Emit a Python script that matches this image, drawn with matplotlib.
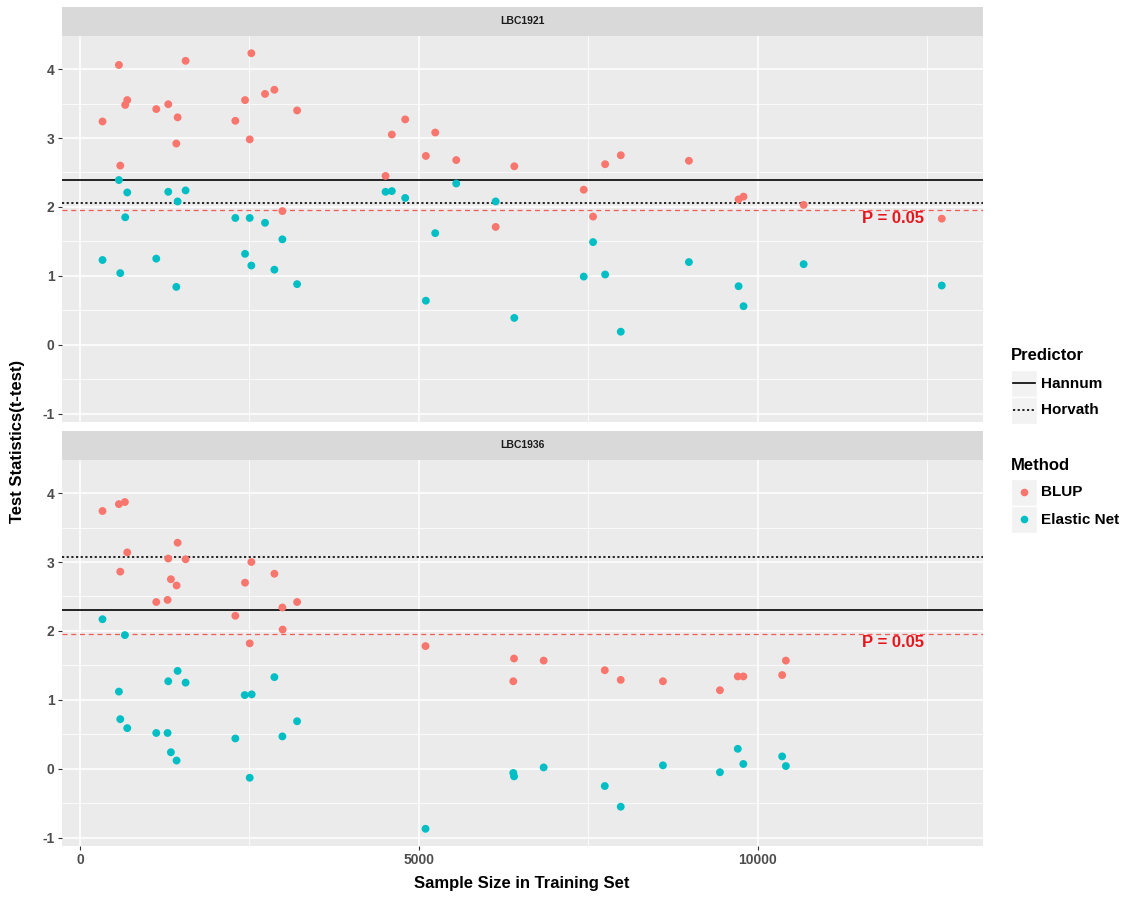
import matplotlib
matplotlib.use("Agg")
import matplotlib.pyplot as plt
from matplotlib.patches import Rectangle
from matplotlib.lines import Line2D
from matplotlib.ticker import FixedLocator

plt.rcParams['font.family'] = ['Liberation Sans', 'DejaVu Sans']

# ---- data -------------------------------------------------------------
cohorts = ["LBC1921", "LBC1936"]
methods = ["BLUP", "Elastic Net"]
predictors = ["Hannum", "Horvath"]

# LBC1921
lbc1921_blup_n = [332, 574, 594, 667, 697, 1125, 1302, 1421, 1440, 1558, 2292, 2435,
                  2504, 2528, 2730, 2868, 2986, 3203, 4508, 4601, 4798, 5103, 5241,
                  5551, 6133, 6408, 7432, 7570, 7748, 7979, 8984, 9717, 9790, 10677, 12715]
lbc1921_blup_t = [3.24, 4.06, 2.60, 3.48, 3.55, 3.42, 3.49, 2.92, 3.30, 4.12, 3.25, 3.55,
                  2.98, 4.23, 3.64, 3.70, 1.94, 3.40, 2.45, 3.05, 3.27, 2.74, 3.08,
                  2.68, 1.71, 2.59, 2.25, 1.86, 2.62, 2.75, 2.67, 2.11, 2.15, 2.03, 1.83]
lbc1921_enet_n = lbc1921_blup_n
lbc1921_enet_t = [1.23, 2.39, 1.04, 1.85, 2.21, 1.25, 2.22, 0.84, 2.08, 2.24, 1.84, 1.32,
                  1.84, 1.15, 1.77, 1.09, 1.53, 0.88, 2.22, 2.23, 2.13, 0.64, 1.62,
                  2.34, 2.08, 0.39, 0.99, 1.49, 1.02, 0.19, 1.20, 0.85, 0.56, 1.17, 0.86]

# LBC1936
lbc1936_blup_n = [332, 574, 594, 662, 697, 1125, 1292, 1302, 1341, 1425, 1440, 1558,
                  2292, 2435, 2504, 2528, 2868, 2986, 2990, 3203, 5098, 6393, 6404,
                  6841, 7743, 7978, 8601, 9442, 9705, 9787, 10360, 10415]
lbc1936_blup_t = [3.74, 3.84, 2.86, 3.87, 3.14, 2.42, 2.45, 3.05, 2.75, 2.66, 3.28, 3.04,
                  2.22, 2.70, 1.82, 3.00, 2.83, 2.34, 2.02, 2.42, 1.78, 1.27, 1.60,
                  1.57, 1.43, 1.29, 1.27, 1.14, 1.34, 1.34, 1.36, 1.57]
lbc1936_enet_n = [332, 574, 594, 662, 697, 1125, 1292, 1302, 1341, 1425, 1440, 1558,
                  2292, 2430, 2504, 2533, 2868, 2986, 3203, 5098, 6393, 6404, 6841,
                  7743, 7978, 8601, 9442, 9705, 9787, 10360, 10415]
lbc1936_enet_t = [2.17, 1.12, 0.72, 1.94, 0.59, 0.52, 0.52, 1.27, 0.24, 0.12, 1.42, 1.25,
                  0.44, 1.07, -0.13, 1.08, 1.33, 0.47, 0.69, -0.87, -0.06, -0.11, 0.02,
                  -0.25, -0.55, 0.05, -0.05, 0.29, 0.07, 0.18, 0.04]

# reference t-statistics of the published clocks, per cohort
hannum_t = [2.39, 2.31]
horvath_t = [2.06, 3.07]
p05_t = 1.96
p05_label = "P = 0.05"
p05_label_x = 12000

x_ticks = [0, 5000, 10000]
y_ticks = [-1, 0, 1, 2, 3, 4]

panels = [
    (lbc1921_blup_n, lbc1921_blup_t, lbc1921_enet_n, lbc1921_enet_t),
    (lbc1936_blup_n, lbc1936_blup_t, lbc1936_enet_n, lbc1936_enet_t),
]

# ---- style ------------------------------------------------------------
W, H = 1123, 897
BG = "#EBEBEB"
STRIP = "#D9D9D9"
RED = "#F8766D"
CYAN = "#00BFC4"
TICK_TXT = "#4D4D4D"

fig = plt.figure(figsize=(W / 100, H / 100), dpi=100)


def fx(px):
    return px / W


def fy(py):
    return 1 - py / H


left, right = 61.5, 982.5
panel_boxes = [(36, 422, 7), (460, 846, 431)]   # (top, bottom, strip top) in px

for i, (cohort, data) in enumerate(zip(cohorts, panels)):
    top, bot, stop = panel_boxes[i]
    ax = fig.add_axes([fx(left), fy(bot), fx(right - left), (bot - top) / H])
    ax.set_facecolor(BG)
    ax.set_xlim(-273, 13316)
    ax.set_ylim(-1.12, 4.48)
    ax.xaxis.set_major_locator(FixedLocator(x_ticks))
    ax.xaxis.set_minor_locator(FixedLocator([2500, 7500, 12500]))
    ax.yaxis.set_major_locator(FixedLocator(y_ticks))
    ax.yaxis.set_minor_locator(FixedLocator([-0.5, 0.5, 1.5, 2.5, 3.5]))
    ax.grid(which="major", color="white", lw=1.1, zorder=0)
    ax.grid(which="minor", color="white", lw=0.55, zorder=0)
    ax.set_axisbelow(True)
    for s in ax.spines.values():
        s.set_visible(False)
    ax.tick_params(which="major", length=3, width=0.8, color="#333333",
                   labelcolor=TICK_TXT, labelsize=10, pad=2)
    ax.tick_params(which="minor", length=0)
    if i == 0:
        ax.tick_params(axis="x", which="both", labelbottom=False, length=0)
    else:
        ax.set_xticklabels([str(t) for t in x_ticks], fontweight="bold")
    ax.set_yticklabels([str(t) for t in y_ticks], fontweight="bold")

    bn, bt, en, et = data
    ax.scatter(bn, bt, s=32, color=RED, edgecolors="none", zorder=3)
    ax.scatter(en, et, s=32, color=CYAN, edgecolors="none", zorder=3)

    ax.axhline(hannum_t[i], color="black", lw=1.2, ls="-", zorder=2)
    ax.axhline(horvath_t[i], color="black", lw=1.2, ls=(0, (1.3, 1.5)), zorder=2)
    ax.axhline(p05_t, color="#F25A55", lw=0.9, ls=(0, (4, 3)), zorder=2)
    ax.text(p05_label_x, p05_t - 0.13, p05_label, color="#E8141B", fontsize=12,
            fontweight="bold", ha="center", va="center", zorder=4)

    # facet strip
    sax = fig.add_axes([fx(left), fy(top), fx(right - left), (top - stop) / H])
    sax.set_facecolor(STRIP)
    sax.set_xticks([])
    sax.set_yticks([])
    for s in sax.spines.values():
        s.set_visible(False)
    sax.text(0.5, 0.5, cohort, transform=sax.transAxes, ha="center", va="center",
             fontsize=7.5, fontweight="bold", color="#1A1A1A")

fig.text(fx(522), fy(883), "Sample Size in Training Set", ha="center", va="center",
         fontsize=12, fontweight="bold", color="black")
fig.text(fx(18), fy(441), "Test Statistics(t-test)", ha="center", va="center",
         rotation=90, fontsize=12, fontweight="bold", color="black")

# ---- legends (drawn in pixel space on an overlay) ---------------------
lg = fig.add_axes([0, 0, 1, 1], zorder=5)
lg.set_xlim(0, W)
lg.set_ylim(H, 0)
lg.axis("off")
lg.patch.set_alpha(0)

kx0, kw, kh = 1011, 26, 27
lg.text(1011, 355, "Predictor", fontsize=12, fontweight="bold", ha="left", va="center")
pred_styles = ["-", (0, (1.3, 1.5))]
for j, (name, ls) in enumerate(zip(predictors, pred_styles)):
    y0 = 370 + j * kh
    lg.add_patch(Rectangle((kx0, y0), kw, kh, facecolor="#F2F2F2", edgecolor="white", lw=1))
    lg.add_line(Line2D([kx0 + 2, kx0 + kw - 2], [y0 + kh / 2] * 2, color="black", lw=1.2, ls=ls))
    lg.text(1041, y0 + kh / 2, name, fontsize=11, fontweight="bold", ha="left", va="center")

lg.text(1011, 466, "Method", fontsize=12, fontweight="bold", ha="left", va="center")
for j, (name, col) in enumerate(zip(methods, [RED, CYAN])):
    y0 = 479 + j * kh
    lg.add_patch(Rectangle((kx0, y0), kw, kh, facecolor="#F2F2F2", edgecolor="white", lw=1))
    lg.plot([kx0 + kw / 2], [y0 + kh / 2], "o", color=col, ms=5.5, mec="none")
    lg.text(1041, y0 + kh / 2, name, fontsize=11, fontweight="bold", ha="left", va="center")

fig.savefig("out.png", dpi=100, facecolor="white")
